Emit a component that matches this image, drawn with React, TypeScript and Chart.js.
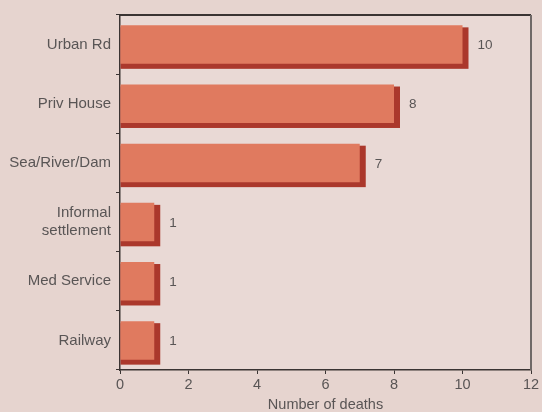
import React, { useEffect, useRef } from "react";
import { Chart, registerables } from "chart.js";

Chart.register(...registerables);

const categories: (string | string[])[] = [
  "Urban Rd",
  "Priv House",
  "Sea/River/Dam",
  ["Informal", "settlement"],
  "Med Service",
  "Railway",
];
const deaths: number[] = [10, 8, 7, 1, 1, 1];
const xTicks: number[] = [0, 2, 4, 6, 8, 10, 12];
const xTitle = "Number of deaths";

const PAGE_BG = "#e6d4cf";
const PLOT_BG = "#e9d9d5";
const BAR = "#e07a5f";
const SHADOW = "#ab382c";
const TEXT = "#595555";
const FONT = "'Liberation Sans', Arial, sans-serif";

export default function App() {
  const ref = useRef<HTMLCanvasElement | null>(null);

  useEffect(() => {
    document.body.style.margin = "0";
    const canvas = ref.current;
    if (!canvas) return;

    const bgPlugin = {
      id: "bg",
      beforeDraw(chart: any) {
        const { ctx, chartArea: a } = chart;
        ctx.save();
        ctx.fillStyle = PAGE_BG;
        ctx.fillRect(0, 0, chart.width, chart.height);
        ctx.fillStyle = PLOT_BG;
        ctx.fillRect(a.left, a.top, a.right - a.left, a.bottom - a.top);
        ctx.restore();
      },
    };

    const shadowPlugin = {
      id: "barShadow",
      beforeDatasetsDraw(chart: any) {
        const ctx = chart.ctx;
        const meta = chart.getDatasetMeta(0);
        ctx.save();
        ctx.fillStyle = SHADOW;
        meta.data.forEach((el: any) => {
          const top = el.y - el.height / 2;
          const bottom = el.y + el.height / 2;
          ctx.fillRect(el.base, top + 2, el.x + 6 - el.base, bottom + 5 - (top + 2));
        });
        ctx.restore();
      },
      afterDatasetsDraw(chart: any) {
        const ctx = chart.ctx;
        const meta = chart.getDatasetMeta(0);
        ctx.save();
        ctx.fillStyle = TEXT;
        ctx.font = `13.5px ${FONT}`;
        ctx.textAlign = "left";
        ctx.textBaseline = "middle";
        meta.data.forEach((el: any, i: number) => {
          ctx.fillText(String(deaths[i]), el.x + 15, el.y + 1);
        });
        const a = chart.chartArea;
        ctx.lineWidth = 2;
        ctx.strokeStyle = "#3a3433";
        ctx.beginPath();
        ctx.moveTo(a.left, a.top);
        ctx.lineTo(a.right, a.top);
        ctx.stroke();
        ctx.strokeStyle = "#6f6866";
        ctx.beginPath();
        ctx.moveTo(a.right, a.top);
        ctx.lineTo(a.right, a.bottom);
        ctx.stroke();
        ctx.restore();
      },
    };

    const chart = new Chart(canvas, {
      type: "bar",
      data: {
        labels: categories,
        datasets: [
          {
            data: deaths,
            backgroundColor: BAR,
            borderWidth: 0,
            categoryPercentage: 1,
            barPercentage: 0.65,
          },
        ],
      },
      options: {
        indexAxis: "y",
        animation: false,
        responsive: false,
        devicePixelRatio: 1,
        layout: { padding: { top: 15, right: 11, left: 0, bottom: 0 } },
        plugins: {
          legend: { display: false },
          tooltip: { enabled: false },
        },
        scales: {
          x: {
            type: "linear",
            min: 0,
            max: 12,
            afterBuildTicks: (s: any) => {
              s.ticks = xTicks.map((v) => ({ value: v }));
            },
            ticks: {
              color: TEXT,
              font: { family: FONT, size: 14.5 },
              padding: 2,
            },
            grid: {
              drawOnChartArea: false,
              drawTicks: true,
              tickLength: 4,
              color: "#3a3433",
            },
            border: { display: true, color: "#3a3433", width: 1.5 },
            title: {
              display: true,
              text: xTitle,
              color: TEXT,
              font: { family: FONT, size: 14.5, lineHeight: 1 },
              padding: { top: 0, bottom: 0 },
            },
            afterFit: (s: any) => {
              s.height = 42;
            },
          },
          y: {
            ticks: {
              color: TEXT,
              font: { family: FONT, size: 15 },
              padding: 5,
            },
            grid: {
              drawOnChartArea: false,
              drawTicks: true,
              tickLength: 4,
              color: "#3a3433",
            },
            border: { display: true, color: "#3a3433", width: 1.5 },
            afterFit: (s: any) => {
              s.width = 120;
            },
          },
        },
      },
      plugins: [bgPlugin, shadowPlugin],
    });

    return () => chart.destroy();
  }, []);

  return (
    <div style={{ position: "fixed", left: 0, top: 0, width: 542, height: 412 }}>
      <canvas ref={ref} width={542} height={412} />
    </div>
  );
}
